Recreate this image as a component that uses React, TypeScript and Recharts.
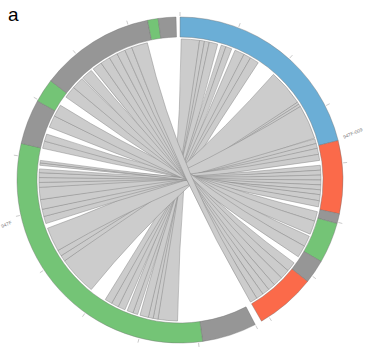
import React from "react";
import { PieChart, Pie, Cell } from "recharts";

// positions are in circle units: the whole ring is 360
const TOTAL = 360;
const CX = 180;
const CY = 180;
const R_IN = 143;
const R_OUT = 163;
const R_LINK = 141;

// coloured features along the ring, clockwise from the top
const featureSize = [76, 26, 3.5, 14.5, 8.5, 21.5, 2.5, 19.5, 111, 16, 8.5, 41, 3.8, 6.3, 1.4];
const featureKind = ["blue", "red", "gray", "green", "gray", "red", "gap", "gray", "green", "gray", "green", "gray", "green", "gray", "gap"];

// the two contigs
const contigName = ["947F-009", "", "947F", ""];
const contigSize = [150, 2.5, 206.1, 1.4];

const tickPos = [0, 21, 42, 63, 84, 105, 126, 147, 152.5, 173.5, 194.5, 215.5, 236.5, 257.5, 278.5, 299.5, 320.5, 341.5];

// links: right contig interval -> left contig interval
const linkFrom = [
  [0.5, 8], [8, 10], [10, 12], [12, 15.5], [17, 19], [19, 21.5], [23, 27], [27, 30], [30, 33.7],
  [41.5, 56.5], [56.5, 57.5], [57.5, 58.6], [58.6, 72.7], [73, 75], [75, 77], [77, 79.5], [79.5, 82],
  [84, 86], [86, 88], [88, 90], [90, 92], [92, 94], [94, 96], [96, 98.5], [98.5, 101],
  [103, 107], [107, 112.6], [113.5, 118], [118, 123],
  [126, 130], [130, 134], [134, 138], [138, 141], [141, 144], [144, 147], [147, 150],
];
const linkTo = [
  [181, 189], [189, 191], [191, 193], [193, 196.5], [197.5, 199.5], [199.5, 202], [203, 206], [206, 209], [209, 212],
  [219, 235], [235, 237.5], [237.5, 240], [240, 250], [252, 255], [255, 258], [258, 262], [262, 267],
  [267, 269], [269, 271], [271, 273], [273, 274.5], [276, 277], [277, 278], [283, 286], [286, 289],
  [292, 297], [297, 302], [306, 311], [311, 316],
  [316.5, 321], [322, 326], [326, 330], [330, 333.5], [333.5, 337], [337, 340], [340, 346.6],
];

const COLORS: Record<string, string> = {
  blue: "#6baed6",
  red: "#fb6a4a",
  gray: "#969696",
  green: "#74c476",
  gap: "none",
};

const ringData = featureSize.map((size, i) => ({ size, kind: featureKind[i] }));
const contigData = contigSize.map((size, i) => ({ size, name: contigName[i] }));
const tickData = tickPos.map((p, i) => ({
  size: (i < tickPos.length - 1 ? tickPos[i + 1] : TOTAL) - p,
}));

// the source ends of the links, laid out as slices with empty slices between
const linkData: { size: number; link: number }[] = [];
let cursor = 0;
linkFrom.forEach(([s0, s1], i) => {
  if (s0 > cursor) linkData.push({ size: s0 - cursor, link: -1 });
  linkData.push({ size: s1 - s0, link: i });
  cursor = s1;
});
if (cursor < TOTAL) linkData.push({ size: TOTAL - cursor, link: -1 });

const RAD = Math.PI / 180;
const toAngle = (pos: number) => 90 - (pos / TOTAL) * 360;
const pt = (cx: number, cy: number, r: number, a: number) =>
  `${cx + r * Math.cos(-a * RAD)},${cy + r * Math.sin(-a * RAD)}`;

function ribbonPath(cx: number, cy: number, r: number, a0: number, a1: number, b0: number, b1: number) {
  const la = Math.abs(a0 - a1) > 180 ? 1 : 0;
  const lb = Math.abs(b0 - b1) > 180 ? 1 : 0;
  return (
    `M${pt(cx, cy, r, a0)} A${r},${r} 0 ${la} 1 ${pt(cx, cy, r, a1)} ` +
    `Q${cx},${cy} ${pt(cx, cy, r, b0)} A${r},${r} 0 ${lb} 1 ${pt(cx, cy, r, b1)} ` +
    `Q${cx},${cy} ${pt(cx, cy, r, a0)} Z`
  );
}

const renderLink = (p: any) => {
  const i = p.payload?.link ?? p.link;
  if (typeof i !== "number" || i < 0) return null;
  const [t0, t1] = linkTo[i];
  return (
    <path
      key={`link-${i}`}
      d={ribbonPath(p.cx, p.cy, R_LINK, p.startAngle, p.endAngle, toAngle(t0), toAngle(t1))}
      fill="#cccccc"
      stroke="#888888"
      strokeWidth={0.5}
    />
  );
};

const renderTick = (p: any) => {
  const a = p.startAngle;
  const [x1, y1] = pt(p.cx, p.cy, R_OUT + 1, a).split(",");
  const [x2, y2] = pt(p.cx, p.cy, R_OUT + 5, a).split(",");
  return <line key={`tick-${p.index}`} x1={x1} y1={y1} x2={x2} y2={y2} stroke="#b5b5b5" strokeWidth={0.7} />;
};

const renderContig = (p: any) => {
  const name = p.payload?.name ?? p.name;
  if (!name) return null;
  const mid = (p.startAngle + p.endAngle) / 2;
  const r = R_OUT + 16;
  const x = p.cx + r * Math.cos(-mid * RAD);
  const y = p.cy + r * Math.sin(-mid * RAD);
  let rot = 90 - mid - 90;
  if (rot > 90 || rot < -90) rot += 180;
  rot = ((rot + 540) % 360) - 180;
  return (
    <text
      key={`contig-${p.index}`}
      x={x}
      y={y}
      textAnchor="middle"
      dominantBaseline="middle"
      transform={`rotate(${rot - 8}, ${x}, ${y})`}
      fontSize={4.8}
      fontFamily="Liberation Sans, Arial, sans-serif"
      fill="#777"
    >
      {name}
    </text>
  );
};

export default function App() {
  return (
    <div style={{ position: "absolute", left: 0, top: 0, width: 368, height: 347, background: "#fff" }}>
      <div
        style={{
          position: "absolute",
          left: 8,
          top: 4,
          fontFamily: "Liberation Sans, Arial, sans-serif",
          fontSize: 19,
          color: "#000",
        }}
      >
        a
      </div>
      <PieChart width={368} height={347} margin={{ top: 0, right: 0, bottom: 0, left: 0 }}>
        <Pie
          data={linkData}
          dataKey="size"
          cx={CX}
          cy={CY}
          innerRadius={R_LINK - 1}
          outerRadius={R_LINK}
          startAngle={90}
          endAngle={-270}
          fill="none"
          stroke="none"
          label={renderLink}
          labelLine={false}
          isAnimationActive={false}
        />
        <Pie
          data={ringData}
          dataKey="size"
          cx={CX}
          cy={CY}
          innerRadius={R_IN}
          outerRadius={R_OUT}
          startAngle={90}
          endAngle={-270}
          isAnimationActive={false}
        >
          {ringData.map((d, i) => (
            <Cell
              key={i}
              fill={COLORS[d.kind]}
              stroke={d.kind === "gap" ? "none" : "#6e6e6e"}
              strokeWidth={0.4}
            />
          ))}
        </Pie>
        <Pie
          data={tickData}
          dataKey="size"
          cx={CX}
          cy={CY}
          innerRadius={R_OUT}
          outerRadius={R_OUT}
          startAngle={90}
          endAngle={-270}
          fill="none"
          stroke="none"
          label={renderTick}
          labelLine={false}
          isAnimationActive={false}
        />
        <Pie
          data={contigData}
          dataKey="size"
          cx={CX}
          cy={CY}
          innerRadius={R_OUT}
          outerRadius={R_OUT}
          startAngle={90}
          endAngle={-270}
          fill="none"
          stroke="none"
          label={renderContig}
          labelLine={false}
          isAnimationActive={false}
        />
      </PieChart>
    </div>
  );
}
